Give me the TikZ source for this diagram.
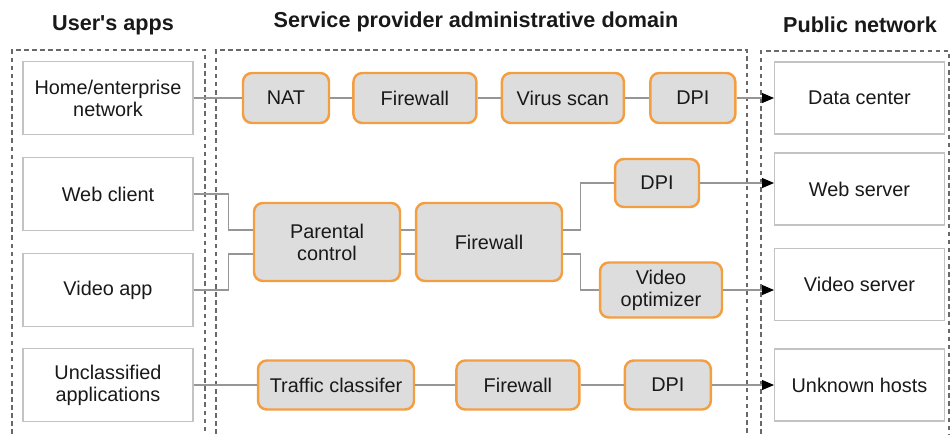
\documentclass[tikz,border=0pt]{standalone}
\usepackage{fontspec}
\setmainfont{Liberation Sans}
\usetikzlibrary{positioning,arrows.meta}
\definecolor{amber}{RGB}{244,158,66}
\definecolor{shade}{RGB}{221,221,221}
\definecolor{wire}{RGB}{150,150,150}
\definecolor{rim}{RGB}{195,195,195}
\definecolor{fence}{RGB}{105,105,105}
\definecolor{ink}{RGB}{25,25,25}
\tikzset{
  app/.style={draw=rim, line width=0.6pt, fill=white, text=ink, align=center, minimum width=3.4cm, minimum height=1.46cm, inner sep=2pt, font=\fontsize{11.3}{12.6}\selectfont},
  fn/.style={draw=amber, line width=1.4pt, rounded corners=5pt, fill=shade, text=ink, align=center, minimum width=#1, minimum height=1cm, inner sep=2pt, font=\fontsize{11.3}{12.6}\selectfont},
  fn/.default={1.72cm},
  head/.style={anchor=base, text=ink, font=\fontsize{12.3}{14}\selectfont\bfseries},
  link/.style={draw=wire, line width=0.6pt},
  arrow/.style={link, -{Triangle[length=0.24cm, width=0.2cm, color=black]}},
  zone/.style={draw=fence, line width=1.3pt, dash pattern=on 2.6pt off 2pt}
}
\begin{document}
\begin{tikzpicture}[x=0.02cm, y=-0.02cm]
  \useasboundingbox (0,0) rectangle (952,434);

  % the three domains
  \draw[zone] (12,434) |- (205,50) -- (205,434);
  \draw[zone] (216,434) |- (747,50) -- (747,434);
  \draw[zone] (761,434) |- (949,51) -- (949,434);
  \node[head] (tapps) at (113,30) {User\textquotesingle s apps};
  \node[head] (tsp) at (476,27) {Service provider administrative domain};
  \node[head] (tpub) at (860,32) {Public network};

  % user side
  \node[app] (home) at (108,98) {Home/enterprise\\ network};
  \node[app] (wc) at (108,194) {Web client};
  \node[app] (va) at (108,290) {Video app};
  \node[app] (uc) at (108,385) {Unclassified\\ applications};

  % public side
  \node[app, minimum height=1.44cm] (dc) at (859.5,98) {Data center};
  \node[app, minimum height=1.44cm] (ws) at (859.5,189) {Web server};
  \node[app, minimum height=1.44cm] (vsv) at (859.5,284.5) {Video server};
  \node[app, minimum height=1.44cm] (uh) at (859.5,385) {Unknown hosts};

  % first chain
  \node[fn] (nat) at (286,98) {NAT};
  \node[fn={2.46cm}, right=0.44cm of nat] (fw1) {Firewall};
  \node[fn={2.44cm}, right=0.46cm of fw1] (vscan) {Virus scan};
  \node[fn={1.7cm}, right=0.48cm of vscan] (dpi1) {DPI};

  % second chain
  \node[fn={2.92cm}, minimum height=1.56cm] (pc) at (327,242) {Parental\\ control};
  \node[fn={2.92cm}, minimum height=1.56cm] (fw2) at (489,242) {Firewall};
  \node[fn={1.68cm}, minimum height=0.96cm] (dpi2) at (657,183) {DPI};
  \node[fn={2.44cm}, minimum height=1.1cm] (vo) at (661,290) {Video\\ optimizer};

  % third chain
  \node[fn={3.12cm}, minimum height=0.98cm] (tc) at (336,385) {Traffic classifer};
  \node[fn={2.46cm}, minimum height=0.98cm, right=0.8cm of tc] (fw3) {Firewall};
  \node[fn={1.72cm}, minimum height=0.98cm, right=0.86cm of fw3] (dpi3) {DPI};

  \draw[link] (home) -- (nat);
  \draw[link] (nat) -- (fw1);
  \draw[link] (fw1) -- (vscan);
  \draw[link] (vscan) -- (dpi1);
  \draw[arrow] (dpi1) -- (dc);

  \draw[link] (wc.east) -- ++(35,0) |- ([yshift=0.24cm]pc.west);
  \draw[link] (va.east) -- ++(35,0) |- ([yshift=-0.24cm]pc.west);
  \draw[link] ([yshift=0.24cm]pc.east) -- ([yshift=0.24cm]fw2.west);
  \draw[link] ([yshift=-0.24cm]pc.east) -- ([yshift=-0.24cm]fw2.west);
  \draw[link] ([yshift=0.24cm]fw2.east) -- ++(17,0) |- (dpi2.west);
  \draw[link] ([yshift=-0.24cm]fw2.east) -- ++(17,0) |- (vo.west);
  \draw[arrow] (dpi2.east) -- (dpi2 -| ws.west);
  \draw[arrow] (vo.east) -- (vo -| vsv.west);

  \draw[link] (uc) -- (tc);
  \draw[link] (tc) -- (fw3);
  \draw[link] (fw3) -- (dpi3);
  \draw[arrow] (dpi3) -- (uh);
\end{tikzpicture}
\end{document}
